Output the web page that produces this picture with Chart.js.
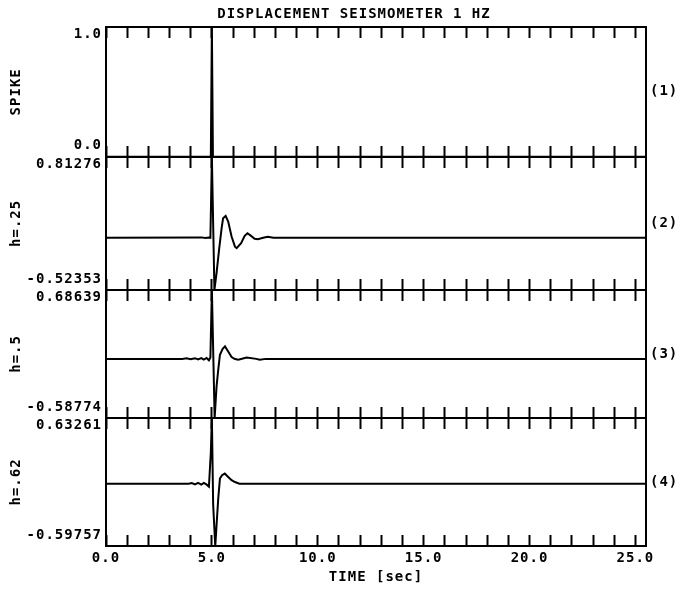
<!DOCTYPE html>
<html>
<head>
<meta charset="utf-8">
<script src="https://cdn.jsdelivr.net/npm/chart.js@4/dist/chart.umd.min.js"></script>
<style>
  html, body { margin: 0; padding: 0; background: #fff; }
  canvas { display: block; }
</style>
</head>
<body>
<canvas id="seis" width="680" height="590"></canvas>
<script>
// ---- time axis -------------------------------------------------------------
const timeMax = 25.5;
const timeTicks = [0, 1, 2, 3, 4, 5, 6, 7, 8, 9, 10, 11, 12, 13, 14, 15, 16, 17, 18, 19, 20, 21, 22, 23, 24, 25];
const timeLabels = ['0.0', '', '', '', '', '5.0', '', '', '', '', '10.0', '', '', '', '', '15.0',
                    '', '', '', '', '20.0', '', '', '', '', '25.0'];

// ---- panels ----------------------------------------------------------------
const panelNames = ['SPIKE', 'h=.25', 'h=.5', 'h=.62'];
const panelTags = ['(1)', '(2)', '(3)', '(4)'];
const panelMax = [1.0, 0.81276, 0.68639, 0.63261];
const panelMin = [0.0, -0.52353, -0.58774, -0.59757];
const maxLabels = ['1.0', '0.81276', '0.68639', '0.63261'];
const minLabels = ['0.0', '-0.52353', '-0.58774', '-0.59757'];

// (1) input spike
const spikeTime = [0, 4.95, 5.0, 5.05, 25.5];
const spikeValue = [0, 0, 1.0, 0, 0];

// (2) damping h = .25
const h25Time = [0, 4.5, 4.7, 4.85, 4.93, 5.0, 5.12, 5.22, 5.34, 5.46, 5.53, 5.65, 5.77, 5.93, 6.09, 6.17,
                 6.38, 6.55, 6.68, 6.85, 7.02, 7.17, 7.42, 7.64, 7.9, 25.5];
const h25Value = [0, 0.004, -0.003, 0.003, 0, 0.81276, -0.52353, -0.356, -0.12, 0.096, 0.197, 0.22, 0.163,
                  0.012, -0.089, -0.104, -0.054, 0.019, 0.046, 0.019, -0.011, -0.014, 0, 0.01, 0, 0];

// (3) damping h = .5
const h50Time = [0, 3.6, 3.8, 4.0, 4.2, 4.35, 4.5, 4.62, 4.75, 4.86, 4.93, 5.0, 5.13, 5.22, 5.3, 5.38,
                 5.51, 5.62, 5.77, 5.93, 6.09, 6.25, 6.64, 7.1, 7.26, 7.55, 25.5];
const h50Value = [0, 0, 0.006, -0.004, 0.007, -0.006, 0.007, -0.007, 0.009, -0.014, 0.015, 0.68639, -0.58774,
                  -0.276, -0.11, 0.04, 0.10, 0.124, 0.074, 0.018, -0.002, -0.009, 0.013, 0, -0.009, 0, 0];

// (4) damping h = .62
const h62Time = [0, 3.9, 4.05, 4.2, 4.35, 4.5, 4.62, 4.74, 4.86, 4.95, 5.0, 5.06, 5.16, 5.23, 5.3, 5.38,
                 5.48, 5.61, 5.77, 5.93, 6.09, 6.3, 25.5];
const h62Value = [0, 0, 0.007, -0.006, 0.009, -0.008, 0.009, -0.006, -0.027, 0.30, 0.63261, -0.2, -0.59757,
                  -0.367, -0.143, 0.05, 0.083, 0.098, 0.066, 0.034, 0.017, 0, 0];

const series = [
  { t: spikeTime, v: spikeValue },
  { t: h25Time, v: h25Value },
  { t: h50Time, v: h50Value },
  { t: h62Time, v: h62Value }
];

// ---- styling ---------------------------------------------------------------
const INK = '#000';
const FONT = "'DejaVu Sans Mono', 'Liberation Mono', monospace";
const WEIGHT = 'bold';
const panelHeights = [130, 133, 128, 128];
const TICK = 11;

// plotter-like lettering: monospaced with a little extra spacing
const lettering = {
  id: 'lettering',
  beforeLayout(chart) { chart.ctx.letterSpacing = '1px'; },
  beforeDraw(chart) { chart.ctx.letterSpacing = '1px'; }
};

const setTimeTicks = (scale) => { scale.ticks = timeTicks.map(v => ({ value: v })); };

// a row of inward tick marks along one panel edge
function tickRow(position, length) {
  return {
    type: 'linear', axis: 'x', position,
    min: 0, max: timeMax,
    afterBuildTicks: setTimeTicks,
    ticks: { display: false },
    grid: { display: true, drawOnChartArea: false, drawTicks: true,
            tickLength: length, tickWidth: 2, tickColor: INK },
    border: { display: false }
  };
}

// left value axis of one panel: only its extreme values are labelled
function valueAxis(i) {
  return {
    type: 'linear', axis: 'y', position: 'left',
    stack: 'panels', stackWeight: panelHeights[i], weight: 3 - i,
    min: panelMin[i], max: panelMax[i],
    afterBuildTicks: (s) => { s.ticks = [{ value: panelMin[i] }, { value: panelMax[i] }]; },
    afterFit: (s) => { s.width = 106; s.paddingTop = 0; s.paddingBottom = 0; },
    ticks: {
      autoSkip: false, padding: 4, color: INK,
      font: (c) => ({ family: FONT, size: 14, weight: WEIGHT,
                      lineHeight: c.index === 1 ? '15px' : '22px' }),
      callback: (v) => (v === panelMax[i] ? ['', maxLabels[i]] : [minLabels[i], ''])
    },
    grid: { display: true, drawOnChartArea: true, drawTicks: false, color: INK, lineWidth: 2 },
    border: { display: true, color: INK, width: 2 },
    title: { display: true, text: panelNames[i], color: INK,
             font: { family: FONT, size: 14, weight: WEIGHT }, padding: { top: 8, bottom: 0 } }
  };
}

// right axis of one panel carrying the panel number
function tagAxis(i) {
  return {
    type: 'linear', axis: 'y', position: 'right',
    stack: 'tags', stackWeight: panelHeights[i], weight: i,
    min: 0, max: 1,
    afterBuildTicks: (s) => { s.ticks = [{ value: 0.5 }]; },
    afterFit: (s) => { s.width = 62; },
    ticks: { padding: 4, color: INK, font: { family: FONT, size: 14, weight: WEIGHT },
             callback: () => panelTags[i] },
    grid: { display: false, drawTicks: false },
    border: { display: true, color: INK, width: 2 }
  };
}

const scales = {
  x: {
    type: 'linear', position: 'bottom',
    min: 0, max: timeMax,
    afterBuildTicks: setTimeTicks,
    afterFit: (s) => { s.height = 44; },
    ticks: { autoSkip: false, maxRotation: 0, padding: 15, color: INK,
             font: { family: FONT, size: 14, weight: WEIGHT },
             callback: (v, idx) => timeLabels[idx] },
    grid: { display: true, drawOnChartArea: false, drawTicks: true,
            tickLength: -TICK, tickWidth: 2, tickColor: INK },
    border: { display: true, color: INK, width: 2 },
    title: { display: true, text: 'TIME [sec]', color: INK,
             font: { family: FONT, size: 14, weight: WEIGHT }, padding: { top: 0, bottom: 4 } }
  }
};

panelMax.forEach((_, i) => {
  scales['y' + (i + 1)] = valueAxis(i);
  scales['yr' + (i + 1)] = tagAxis(i);
});
panelMax.forEach((_, i) => {
  scales['xTop' + (i + 1)] = tickRow({ ['y' + (i + 1)]: panelMax[i] }, TICK);
  if (i < panelMax.length - 1) {
    scales['xBot' + (i + 1)] = tickRow({ ['y' + (i + 1)]: panelMin[i] }, -TICK);
  }
});

const datasets = series.map((s, i) => ({
  data: s.t.map((t, k) => ({ x: t, y: s.v[k] })),
  xAxisID: 'x',
  yAxisID: 'y' + (i + 1),
  borderColor: INK,
  borderWidth: 2,
  pointRadius: 0,
  tension: 0,
  fill: false
}));

new Chart(document.getElementById('seis'), {
  type: 'line',
  data: { datasets },
  options: {
    responsive: false,
    animation: false,
    devicePixelRatio: 1,
    events: [],
    layout: { padding: { left: 0, right: -28, top: 0, bottom: 0 } },
    scales,
    plugins: {
      legend: { display: false },
      tooltip: { enabled: false },
      title: {
        display: true,
        text: 'DISPLACEMENT SEISMOMETER 1 HZ',
        color: INK,
        font: { family: FONT, size: 14, weight: WEIGHT },
        padding: { top: 6, bottom: 4 }
      }
    }
  },
  plugins: [lettering]
});
</script>
</body>
</html>
